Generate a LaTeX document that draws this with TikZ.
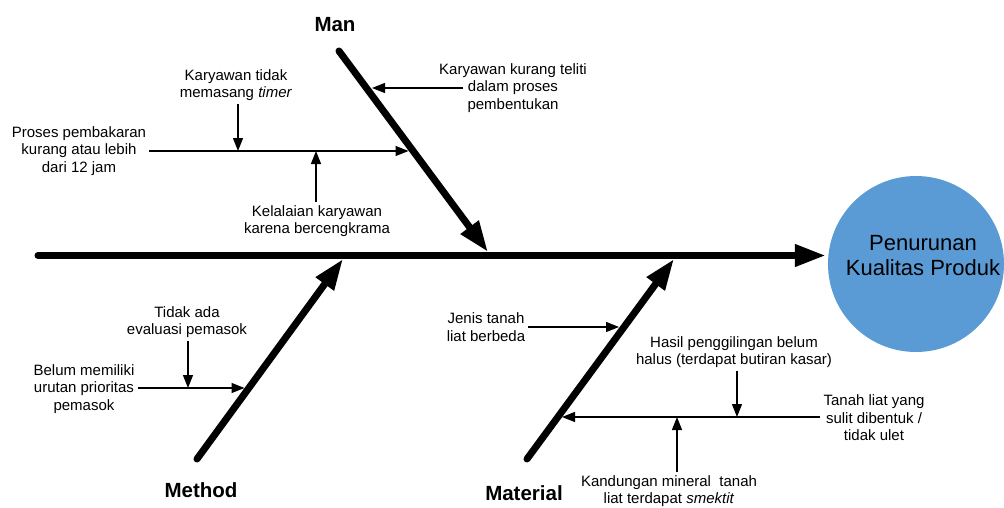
\documentclass[tikz,border=0pt]{standalone}
\usepackage{fontspec}
\setmainfont{Liberation Sans}
\usetikzlibrary{arrows.meta,calc}
\definecolor{effectblue}{RGB}{91,155,213}
\begin{document}
\begin{tikzpicture}[x=1pt,y=-1pt,
  bone/.style={line width=7pt, line cap=round, -{Triangle[length=31pt,width=21pt]}},
  sub/.style={line width=1.3pt, -{Triangle[length=13pt,width=10pt]}},
  cause/.style={font=\fontsize{15}{17.5}\selectfont, align=center, inner sep=3pt},
  cat/.style={font=\fontsize{20.5}{24}\selectfont\bfseries, inner sep=0pt},
]
\useasboundingbox (0,0) rectangle (1004,507);
% effect
\node[circle, fill=effectblue, minimum size=176pt, inner sep=0pt] (effect) at (916,264) {};
\node[font=\fontsize{22}{25}\selectfont, align=center, inner sep=0pt] (effecttext) at (923,256) {Penurunan\\Kualitas Produk};
% spine
\coordinate (s0) at (38,255.5);
\draw[bone] (s0) -- ([xshift=-2pt]s0 -| effect.west);
% bones
\coordinate (m0) at (339,51);  \coordinate (m1) at (488,252);
\coordinate (d0) at (197,459); \coordinate (d1) at (343,259);
\coordinate (t0) at (527,459); \coordinate (t1) at (674,259);
\draw[bone] (m0) -- (m1);
\draw[bone] (d0) -- (d1);
\draw[bone] (t0) -- (t1);
% categories
\node[cat] (man) at (335,25) {Man};
\node[cat] (method) at (201,490) {Method};
\node[cat] (material) at (524,493) {Material};
% Man causes
\node[cause] (proses) at (79,151) {Proses pembakaran\\kurang atau lebih\\dari 12 jam};
\coordinate (mA) at (408.5,151);
\draw[sub] (proses.east) -- (mA);
\node[cause] (timer) at (236,85) {Karyawan tidak\\memasang \textit{timer}};
\coordinate (mAt) at (238,151);
\draw[sub] (timer.south -| mAt) -- (mAt);
\node[cause] (lalai) at (317,221) {Kelalaian karyawan\\karena bercengkrama};
\coordinate (mAl) at (316,151);
\draw[sub] (lalai.north -| mAl) -- (mAl);
\node[cause] (teliti) at (513,88) {Karyawan kurang teliti\\dalam proses\\pembentukan};
\coordinate (mBs) at (463,88);
\coordinate (mB) at (372,88);
\draw[sub] (mBs) -- (mB);
% Method causes
\node[cause] (pemasok) at (187,322) {Tidak ada\\evaluasi pemasok};
\node[cause] (urutan) at (84,389) {Belum memiliki\\urutan prioritas\\pemasok};
\coordinate (dA) at (244.5,388);
\draw[sub] (urutan.east |- dA) -- (dA);
\coordinate (dAt) at (188,388);
\draw[sub] (pemasok.south -| dAt) -- (dAt);
% Material causes
\node[cause] (jenis) at (486,327) {Jenis tanah\\liat berbeda};
\coordinate (tA) at (619,327);
\draw[sub] (jenis.east) -- (tA);
\node[cause] (ulet) at (874,418) {Tanah liat yang\\sulit dibentuk /\\tidak ulet};
\coordinate (tB) at (562,417);
\draw[sub] (ulet.west |- tB) -- (tB);
\node[cause] (hasil) at (734,352) {Hasil penggilingan belum\\halus (terdapat butiran kasar)};
\coordinate (tBh) at (737,417);
\draw[sub] (hasil.south -| tBh) -- (tBh);
\node[cause] (mineral) at (669,491) {Kandungan mineral~ tanah\\liat terdapat \textit{smektit}};
\coordinate (tBm) at (677,417);
\draw[sub] (mineral.north -| tBm) -- (tBm);
\end{tikzpicture}
\end{document}
